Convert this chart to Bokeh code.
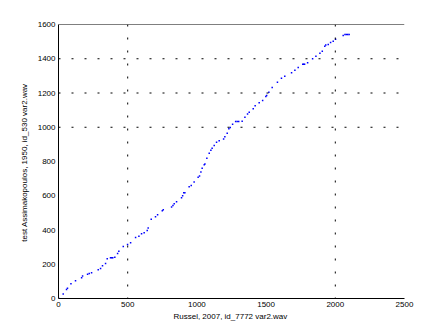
from bokeh.plotting import figure
from bokeh.models import Span, FixedTicker
from bokeh.embed import file_html
from bokeh.resources import INLINE

# data
x_vals = [3, 34, 58, 65, 90, 123, 167, 174, 210, 222, 239, 287, 304, 318, 340, 352,
          376, 384, 392, 407, 427, 436, 468, 499, 521, 557, 581, 600, 619, 641, 648,
          670, 701, 716, 750, 757, 817, 827, 836, 853, 889, 897, 905, 913, 944, 959,
          980, 1009, 1019, 1029, 1038, 1053, 1058, 1072, 1089, 1101, 1110, 1125, 1142,
          1161, 1193, 1202, 1219, 1231, 1241, 1258, 1280, 1291, 1302, 1327, 1347, 1366,
          1378, 1407, 1421, 1450, 1475, 1498, 1504, 1520, 1544, 1582, 1611, 1635, 1684,
          1708, 1732, 1765, 1771, 1778, 1800, 1836, 1860, 1889, 1906, 1924, 1931, 1949,
          1966, 1985, 2002, 2057, 2070, 2080, 2090, 2100]
y_vals = [0, 27, 53, 60, 86, 103, 121, 132, 142, 146, 150, 168, 175, 191, 204, 232,
          238, 238, 238, 241, 263, 276, 304, 315, 325, 356, 364, 378, 384, 397, 411,
          463, 477, 489, 512, 518, 535, 543, 553, 565, 588, 600, 617, 617, 652, 660,
          681, 708, 716, 738, 761, 781, 786, 819, 848, 866, 878, 893, 913,
          921, 932, 944, 965, 991, 999, 1018, 1034, 1034, 1034, 1035, 1059, 1078,
          1088, 1108, 1125, 1143, 1156, 1180, 1185, 1205, 1232, 1263, 1286, 1298, 1318,
          1333, 1349, 1368, 1368, 1368, 1377, 1400, 1415, 1432, 1444, 1473, 1481, 1483,
          1495, 1502, 1514, 1536, 1542, 1542, 1542, 1542]
x_ticks = [0, 500, 1000, 1500, 2000, 2500]
y_ticks = [0, 200, 400, 600, 800, 1000, 1200, 1400, 1600]
vgrid = [500, 2000]
hgrid = [1000, 1200, 1400]
x_label = "Russel, 2007, id_7772  var2.wav"
y_label = "test Assimakopoulos, 1950, id_530  var2.wav"

FONT = "Liberation Sans"

p = figure(width=447, height=335, output_backend="svg", toolbar_location=None,
           x_range=(0, 2500), y_range=(0, 1600),
           min_border_left=58, min_border_right=43, min_border_top=24, min_border_bottom=37)
p.outline_line_color = None
p.grid.visible = False
p.background_fill_color = "white"
p.border_fill_color = "white"

for ax, ticks, lab in ((p.xaxis[0], x_ticks, x_label), (p.yaxis[0], y_ticks, y_label)):
    ax.ticker = FixedTicker(ticks=ticks)
    ax.minor_tick_line_color = None
    ax.major_tick_in = 0
    ax.major_tick_out = 0
    ax.major_label_text_font = FONT
    ax.major_label_text_font_size = "8px"
    ax.major_label_text_color = "black"
    ax.axis_label = lab
    ax.axis_label_text_font = FONT
    ax.axis_label_text_font_size = "8px"
    ax.axis_label_text_font_style = "normal"
    ax.axis_label_text_color = "black"
    ax.axis_line_color = "black"
    ax.major_label_standoff = 3

p.xaxis[0].axis_label_standoff = 2
p.yaxis[0].axis_label_standoff = 6

for v in vgrid:
    p.add_layout(Span(location=v, dimension="height", line_color="black",
                      line_width=1, line_dash="2 11"))
for h in hgrid:
    p.add_layout(Span(location=h, dimension="width", line_color="black",
                      line_width=1, line_dash="2 11"))
p.add_layout(Span(location=1600, dimension="width", line_color="black", line_width=1))

p.scatter(x_vals, y_vals, marker="square", size=1.5, color="blue", line_color=None)

open("out.html", "w").write(file_html(p, INLINE))
